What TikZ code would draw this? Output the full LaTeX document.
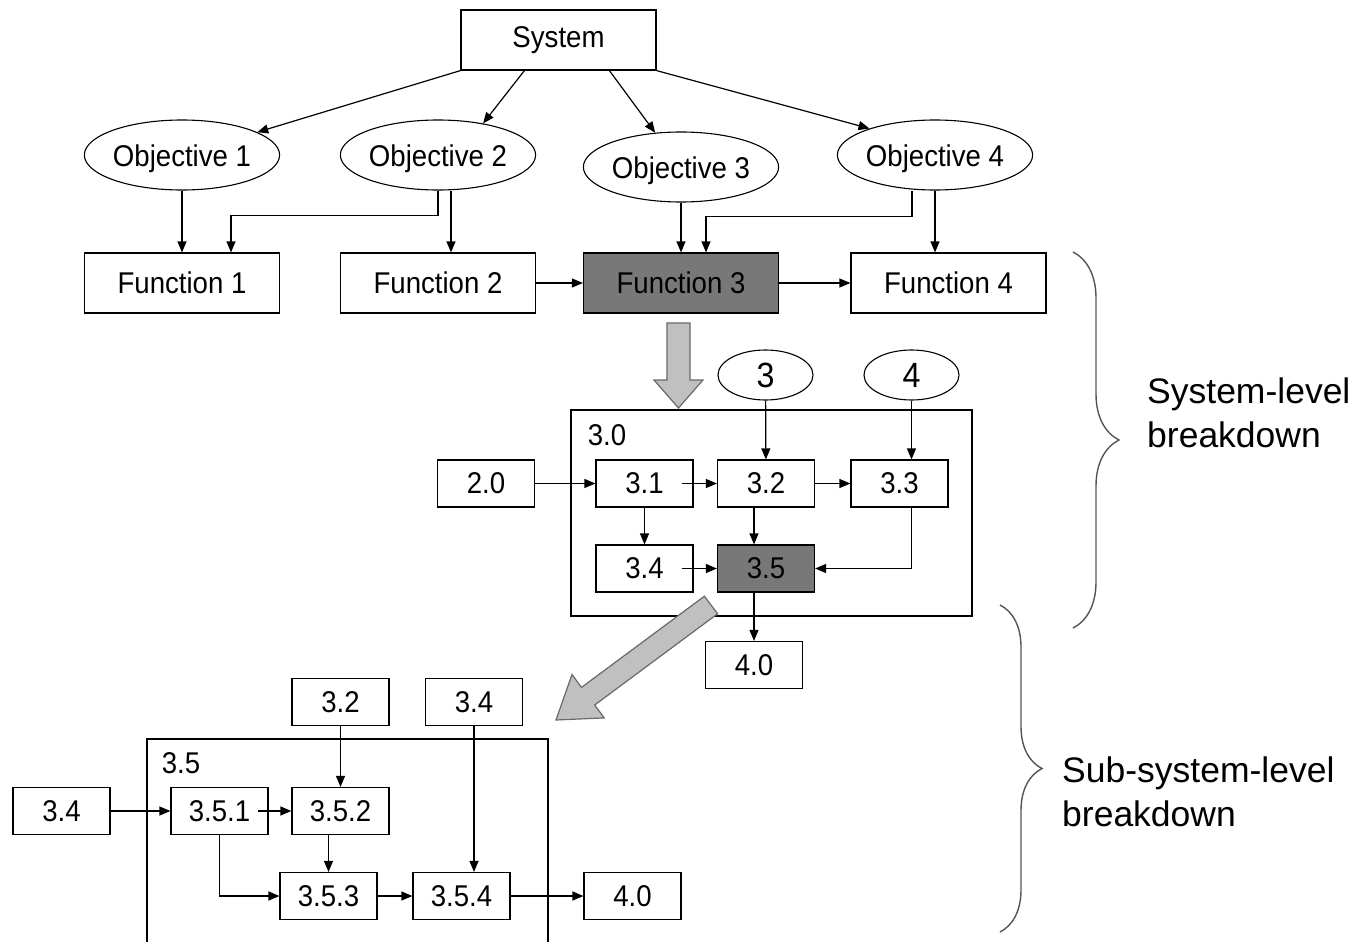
\documentclass[tikz,border=0pt]{standalone}
\usepackage{fontspec}
\setmainfont{Liberation Sans}
\newfontfamily\dfont{Liberation Sans}[FakeStretch=0.92]
\usetikzlibrary{shapes.geometric,arrows.meta,decorations.pathreplacing}
\definecolor{darkfill}{RGB}{120,120,120}
\definecolor{arrowfill}{RGB}{192,192,192}
\definecolor{arrowline}{RGB}{105,105,105}
\definecolor{bracecol}{RGB}{85,85,85}
\begin{document}
\begin{tikzpicture}[x=1pt,y=-1pt,
  every node/.style={font=\dfont\fontsize{30}{36}\selectfont, inner sep=0pt},
  box/.style={draw, line width=1.2pt, minimum width=195pt, minimum height=60pt},
  sbox/.style={draw, line width=1.2pt, minimum width=97pt, minimum height=47pt},
  obj/.style={draw, ellipse, line width=1.1pt, minimum width=195pt, minimum height=70pt, text height=22pt, text depth=0pt},
  smallobj/.style={obj, minimum width=95pt, minimum height=50pt, text height=25pt, font=\dfont\fontsize{35}{40}\selectfont},
  conn/.style={line width=1.2pt, -{Triangle[length=11pt,width=9pt]}},
  garrow/.style={fill=arrowfill, draw=arrowline, line width=1.2pt, line join=miter},
  bracestyle/.style={draw=bracecol, line width=1.4pt, decorate},
  side/.style={font=\fontsize{35.5}{44}\selectfont, align=left, anchor=west}
]
\useasboundingbox (0,0) rectangle (1361,942);
\fill[white] (0,0) rectangle (1361,942);

% top level
\node[box] (sys) at (558.5,40) {System};
\node[obj] (o1) at (182,155) {Objective 1};
\node[obj] (o2) at (438,155) {Objective 2};
\node[obj] (o3) at (681,167) {Objective 3};
\node[obj] (o4) at (935,155) {Objective 4};
\node[box] (f1) at (182,283) {Function 1};
\node[box] (f2) at (438,283) {Function 2};
\node[box, fill=darkfill] (f3) at (681,283) {Function 3};
\node[box] (f4) at (948.5,283) {Function 4};

\draw[conn] (sys.south west) -- (o1);
\draw[conn] ([xshift=64pt]sys.south west) -- (o2.35);
\draw[conn] ([xshift=149pt]sys.south west) -- (o3.127);
\draw[conn] (sys.south east) -- (o4.158);

\draw[conn] (o1.south) -- (f1.north);
\draw[conn] (o2.south) -- ++(0,25) -| ([xshift=49pt]f1.north);
\draw[conn] ([xshift=13pt]f2.north |- o2.south) -- ([xshift=13pt]f2.north);
\draw[conn] (o3.south) -- (f3.north);
\draw[conn] ([xshift=-23pt]o4.south) -- ++(0,26) -| ([xshift=25pt]f3.north);
\draw[conn] (o4.south) -- (o4.south |- f4.north);
\draw[conn] (f2) -- (f3);
\draw[conn] (f3) -- (f4);

% first block arrow
\draw[garrow] (667,323) -- (690,323) -- (690,380) -- (703,380) -- (678.5,408) -- (654,380) -- (667,380) -- cycle;

% system level breakdown
\node[smallobj] (e3) at (765.5,375) {3};
\node[smallobj] (e4) at (911.5,375) {4};
\node[draw, line width=1.2pt, minimum width=401pt, minimum height=206pt] (c30) at (771.5,513) {};
\node (l30) at (607,435) {3.0};
\node[sbox] (b20) at (486,483.5) {2.0};
\node[sbox] (b31) at (644.5,483.5) {3.1};
\node[sbox] (b32) at (766,483.5) {3.2};
\node[sbox] (b33) at (899.5,483.5) {3.3};
\node[sbox] (b34) at (644.5,568.5) {3.4};
\node[sbox, fill=darkfill] (b35) at (766,568.5) {3.5};
\node[sbox] (b40) at (754,665) {4.0};

\draw[conn] (b20) -- (b31);
\draw[conn] ([xshift=-12pt]b31.east) -- (b32.west);
\draw[conn] (b32) -- (b33);
\draw[conn] (e3) -- (b32);
\draw[conn] (e4.south) -- (e4.south |- b33.north);
\draw[conn] (b31.south) -- (b34.north);
\draw[conn] ([xshift=-12pt]b32.south) -- ([xshift=-12pt]b35.north);
\draw[conn] (b33.south -| e4.south) |- (b35.east);
\draw[conn] ([xshift=-12pt]b34.east) -- (b35.west);
\draw[conn] (b40.north |- b35.south) -- (b40.north);

% diagonal block arrow
\draw[garrow] (717.6,613.8) -- (704.4,596.2) -- (581.5,687.4) -- (572.0,674.5) -- (556,720) -- (604.2,717.9) -- (594.7,705.0) -- cycle;

% sub-system level breakdown
\node[sbox] (c32) at (340.5,702) {3.2};
\node[sbox] (c34t) at (474,702) {3.4};
\draw[line width=1.2pt] (147,942) |- (548,739) -- (548,942);
\node (l35) at (181,763) {3.5};
\node[sbox] (c34) at (61.5,811) {3.4};
\node[sbox] (c351) at (219.5,811) {3.5.1};
\node[sbox] (c352) at (340.5,811) {3.5.2};
\node[sbox] (c353) at (328.5,896) {3.5.3};
\node[sbox] (c354) at (461.5,896) {3.5.4};
\node[sbox] (c40) at (632.5,896) {4.0};

\draw[conn] (c34) -- (c351);
\draw[conn] ([xshift=-11pt]c351.east) -- (c352.west);
\draw[conn] (c32) -- (c352);
\draw[conn] (c34t.south) -- (c34t.south |- c354.north);
\draw[conn] (c353.north |- c352.south) -- (c353.north);
\draw[conn] (c351.south) |- (c353.west);
\draw[conn] (c353) -- (c354);
\draw[conn] (c354) -- (c40);

% braces and labels
\draw[bracestyle, decoration={brace, amplitude=46pt}] (1073,252) -- (1073,628);
\draw[bracestyle, decoration={brace, amplitude=42pt}] (1000,605) -- (1000,932);
\node[side] (t1) at (1147,413) {System-level\\breakdown};
\node[side] (t2) at (1062,792) {Sub-system-level\\breakdown};
\end{tikzpicture}
\end{document}
